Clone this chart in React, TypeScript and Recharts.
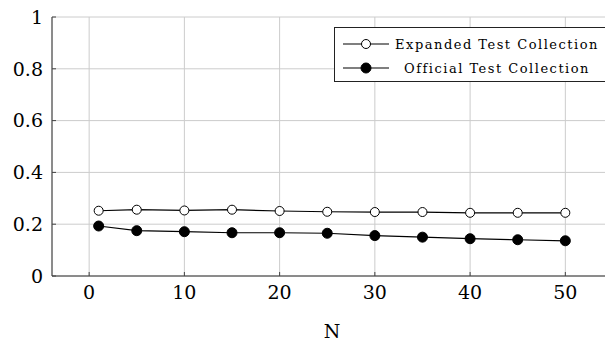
import { LineChart, Line, XAxis, YAxis, CartesianGrid, Legend } from "recharts";

const N_VALUES = [1, 5, 10, 15, 20, 25, 30, 35, 40, 45, 50];
const EXPANDED = [0.252, 0.256, 0.253, 0.256, 0.251, 0.248, 0.247, 0.247, 0.244, 0.244, 0.244];
const OFFICIAL = [0.193, 0.175, 0.171, 0.167, 0.167, 0.165, 0.156, 0.15, 0.144, 0.14, 0.136];
const X_TICKS = [0, 10, 20, 30, 40, 50];
const Y_TICKS = [0, 0.2, 0.4, 0.6, 0.8, 1];
const SERIES_NAMES = ["Expanded Test Collection", "Official Test Collection"];

const data = N_VALUES.map((n, i) => ({
  n,
  expanded: EXPANDED[i],
  official: OFFICIAL[i],
}));

const FONT = "'DejaVu Serif', serif";
const tickStyle = { fill: "#000", fontSize: 19, fontFamily: FONT };

function LegendBox() {
  return (
    <div
      style={{
        width: 276,
        height: 55,
        boxSizing: "border-box",
        border: "1px solid #222",
        background: "#fff",
        fontFamily: FONT,
        fontSize: 13,
        letterSpacing: "1.5px",
        color: "#000",
        paddingTop: 4,
      }}
    >
      {SERIES_NAMES.map((name, i) => (
        <div
          key={name}
          style={{ display: "flex", alignItems: "center", height: 24 }}
        >
          <svg width={60} height={24} style={{ flex: "none" }}>
            <line x1={8} y1={12} x2={54} y2={12} stroke="#000" strokeWidth={1.2} />
            <circle
              cx={31}
              cy={12}
              r={i === 0 ? 4.5 : 5}
              fill={i === 0 ? "#fff" : "#000"}
              stroke="#000"
              strokeWidth={1}
            />
          </svg>
          <div style={{ width: 204, textAlign: "center", whiteSpace: "nowrap" }}>
            {name}
          </div>
        </div>
      ))}
    </div>
  );
}

export default function App() {
  return (
    <div
      style={{
        position: "absolute",
        left: 0,
        top: 0,
        width: 605,
        height: 341,
        overflow: "hidden",
        background: "#fff",
      }}
    >
      <LineChart
        width={614}
        height={341}
        data={data}
        margin={{ top: 17, right: 2, left: 0, bottom: 0 }}
      >
        <CartesianGrid stroke="#cccccc" strokeWidth={1} />
        <XAxis
          dataKey="n"
          type="number"
          domain={[-3.9, 54.9]}
          ticks={X_TICKS}
          allowDataOverflow
          height={65}
          tick={tickStyle}
          tickSize={-4}
          tickMargin={14}
          tickLine={{ stroke: "#444" }}
          axisLine={{ stroke: "#333" }}
          label={{
            value: "N",
            position: "insideBottom",
            offset: 3,
            fill: "#000",
            fontSize: 19,
            fontFamily: FONT,
          }}
        />
        <XAxis
          xAxisId="top"
          orientation="top"
          dataKey="n"
          type="number"
          domain={[-3.9, 54.9]}
          ticks={X_TICKS}
          allowDataOverflow
          height={0}
          tick={false}
          tickSize={-4}
          tickLine={{ stroke: "#444" }}
          axisLine={{ stroke: "#333" }}
        />
        <YAxis
          type="number"
          domain={[0, 1]}
          ticks={Y_TICKS}
          width={52}
          tick={tickStyle}
          tickSize={-4}
          tickMargin={13}
          tickLine={{ stroke: "#444" }}
          axisLine={{ stroke: "#333" }}
        />
        <Legend
          layout="vertical"
          align="center"
          verticalAlign="middle"
          content={() => <LegendBox />}
          wrapperStyle={{ left: 334, top: 27, width: 276 }}
        />
        <Line
          dataKey="expanded"
          name={SERIES_NAMES[0]}
          stroke="#000"
          strokeWidth={1.2}
          dot={{ r: 4.5, fill: "#fff", stroke: "#000", strokeWidth: 1 }}
          isAnimationActive={false}
        />
        <Line
          dataKey="official"
          name={SERIES_NAMES[1]}
          stroke="#000"
          strokeWidth={1.2}
          dot={{ r: 5, fill: "#000", stroke: "#000", strokeWidth: 1 }}
          isAnimationActive={false}
        />
      </LineChart>
    </div>
  );
}
